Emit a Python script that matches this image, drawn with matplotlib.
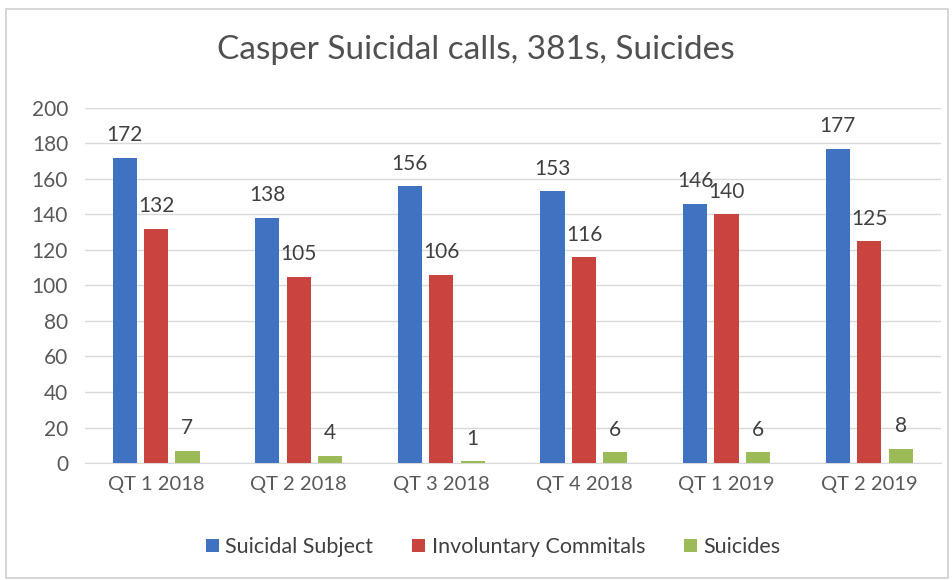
import numpy as np
import matplotlib
matplotlib.use("Agg")
import matplotlib.pyplot as plt
from matplotlib.patches import Rectangle

quarters = ["QT 1 2018", "QT 2 2018", "QT 3 2018", "QT 4 2018", "QT 1 2019", "QT 2 2019"]
suicidal_subject = [172, 138, 156, 153, 146, 177]
involuntary = [132, 105, 106, 116, 140, 125]
suicides = [7, 4, 1, 6, 6, 8]

series = [
    ("Suicidal Subject", suicidal_subject, "#3F72C1"),
    ("Involuntary Commitals", involuntary, "#C9443F"),
    ("Suicides", suicides, "#9BBB59"),
]

plt.rcParams["font.family"] = ["Lato", "DejaVu Sans"]

fig = plt.figure(figsize=(9.52, 5.8), dpi=100)
ax = fig.add_axes([0.089, 0.2017, 0.899, 0.6123])

x = np.arange(len(quarters))
step = 0.22
width = 0.17
for i, (name, vals, color) in enumerate(series):
    bars = ax.bar(x + (i - 1) * step, vals, width=width, color=color, label=name, zorder=3)
    for b, v in zip(bars, vals):
        ax.annotate(str(v), (b.get_x() + b.get_width() / 2, b.get_height()),
                    xytext=(0, 9), textcoords="offset points",
                    ha="center", va="bottom", fontsize=15, color="#404040")

ax.set_xlim(-0.5, len(quarters) - 0.5)
ax.set_ylim(0, 200)
ax.set_yticks(range(0, 201, 20))
ax.set_xticks(x)
ax.set_xticklabels(quarters)
ax.tick_params(axis="y", length=0, labelsize=15, labelcolor="#595959", pad=12)
ax.tick_params(axis="x", length=0, labelsize=14.5, labelcolor="#595959", pad=9)
ax.grid(axis="y", color="#D9D9D9", linewidth=1, zorder=0)
for s in ["top", "right", "left"]:
    ax.spines[s].set_visible(False)
ax.spines["bottom"].set_color("#D9D9D9")

fig.text(0.5, 0.913, "Casper Suicidal calls, 381s, Suicides", ha="center", va="center",
         fontsize=24, color="#505050")

fig.legend(loc="center", bbox_to_anchor=(0.518, 0.057), ncol=3, frameon=False,
           fontsize=15.5, handlelength=0.6, handleheight=0.6, handletextpad=0.3,
           columnspacing=1.8, labelcolor="#404040")

fig.patches.append(Rectangle((0.006, 0.004), 0.99, 0.98, transform=fig.transFigure,
                             fill=False, edgecolor="#D0D0D0", linewidth=1.2))

fig.savefig("out.png", dpi=100)
